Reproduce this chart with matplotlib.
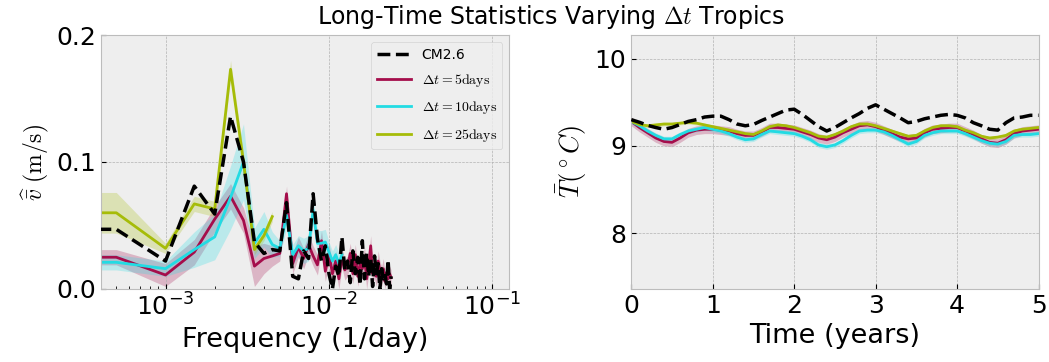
import matplotlib
matplotlib.use("Agg")
import matplotlib.pyplot as plt
import numpy as np

plt.style.use("bmh")

# ---- spectra (frequency in 1e-3 / day) ----
freq_cm = [0.3, 0.5, 1.0, 1.5, 2.0, 2.5, 3.0, 3.5, 4.0, 4.5, 5.0, 5.5, 6.0, 6.5, 7.0, 7.5,
           8.0, 8.5, 9.0, 9.5, 10.0, 10.5, 11.0, 11.5, 12.0, 12.5, 13.0, 13.5, 14.0, 14.5,
           15.0, 15.5, 16.0, 16.5, 17.0, 17.5, 18.0, 18.5, 19.0, 19.5, 20.0, 20.5, 21.0,
           21.5, 22.0, 22.5, 23.0, 23.5, 24.0]
spec_cm = [0.047, 0.047, 0.022, 0.081, 0.059, 0.136, 0.100, 0.037, 0.028, 0.031, 0.030, 0.068,
           0.010, 0.008, 0.030, 0.024, 0.075, 0.040, 0.022, 0.034, 0.012, 0.000, 0.018, 0.010,
           0.041, 0.015, 0.022, 0.005, 0.030, 0.012, 0.025, 0.003, 0.038, 0.008, 0.028, 0.010,
           0.024, 0.002, 0.026, 0.012, 0.020, 0.000, 0.016, 0.008, 0.012, 0.004, 0.023, 0.000,
           0.010]

freq_5 = freq_cm
spec_5 = [0.025, 0.025, 0.011, 0.029, 0.055, 0.073, 0.054, 0.018, 0.024, 0.026, 0.028, 0.075,
          0.020, 0.033, 0.024, 0.035, 0.026, 0.019, 0.038, 0.014, 0.028, 0.012, 0.022, 0.008,
          0.025, 0.015, 0.018, 0.028, 0.012, 0.027, 0.010, 0.020, 0.016, 0.025, 0.008, 0.019,
          0.034, 0.012, 0.016, 0.010, 0.022, 0.014, 0.010, 0.016, 0.006, 0.013, 0.008, 0.012,
          0.009]
err_5 = [0.006, 0.006, 0.009, 0.010, 0.010, 0.010, 0.010, 0.016, 0.012, 0.008, 0.006, 0.006,
         0.008, 0.008, 0.008, 0.008, 0.008, 0.008, 0.008, 0.008, 0.008, 0.008, 0.008, 0.008,
         0.008, 0.008, 0.008, 0.008, 0.008, 0.008, 0.008, 0.008, 0.008, 0.008, 0.008, 0.008,
         0.008, 0.008, 0.008, 0.008, 0.008, 0.008, 0.008, 0.008, 0.006, 0.006, 0.006, 0.006,
         0.006]

freq_10 = [0.3, 0.5, 1.0, 1.5, 2.0, 2.5, 3.0, 3.5, 4.0, 4.5, 5.0, 5.5, 6.0, 6.5, 7.0, 7.5,
           8.0, 8.5, 9.0, 9.5, 10.0, 10.5, 11.0, 11.5, 12.0]
spec_10 = [0.021, 0.021, 0.016, 0.031, 0.041, 0.072, 0.100, 0.036, 0.047, 0.035, 0.032, 0.058,
           0.027, 0.034, 0.030, 0.032, 0.062, 0.036, 0.036, 0.037, 0.029, 0.022, 0.027, 0.020,
           0.027]
err_10 = [0.006, 0.006, 0.006, 0.014, 0.018, 0.025, 0.030, 0.012, 0.014, 0.010, 0.006, 0.010,
          0.008, 0.008, 0.010, 0.010, 0.010, 0.010, 0.010, 0.010, 0.008, 0.008, 0.008, 0.008,
          0.008]

freq_25 = [0.3, 0.5, 1.0, 1.5, 2.0, 2.5, 3.0, 3.5, 4.0, 4.5]
spec_25 = [0.060, 0.060, 0.032, 0.067, 0.063, 0.173, 0.100, 0.031, 0.042, 0.057]
err_25 = [0.016, 0.016, 0.004, 0.006, 0.006, 0.007, 0.007, 0.004, 0.004, 0.004]

# ---- temperature time series ----
years = [0.0, 0.1, 0.2, 0.3, 0.4, 0.5, 0.6, 0.7, 0.8, 0.9, 1.0, 1.1, 1.2, 1.3, 1.4, 1.5, 1.6,
         1.7, 1.8, 1.9, 2.0, 2.1, 2.2, 2.3, 2.4, 2.5, 2.6, 2.7, 2.8, 2.9, 3.0, 3.1, 3.2, 3.3,
         3.4, 3.5, 3.6, 3.7, 3.8, 3.9, 4.0, 4.1, 4.2, 4.3, 4.4, 4.5, 4.6, 4.7, 4.8, 4.9, 5.0]
temp_cm = [9.30, 9.27, 9.235, 9.21, 9.19, 9.21, 9.245, 9.28, 9.30, 9.33, 9.34, 9.34, 9.30, 9.25,
           9.23, 9.245, 9.29, 9.33, 9.37, 9.41, 9.42, 9.36, 9.29, 9.22, 9.17, 9.21, 9.265,
           9.32, 9.37, 9.43, 9.47, 9.42, 9.37, 9.32, 9.265, 9.28, 9.31, 9.33, 9.35, 9.36, 9.35,
           9.32, 9.265, 9.23, 9.19, 9.18, 9.265, 9.32, 9.33, 9.35, 9.35]
temp_5 = [9.28, 9.21, 9.15, 9.09, 9.05, 9.04, 9.09, 9.15, 9.18, 9.19, 9.19, 9.18, 9.17, 9.14,
          9.12, 9.12, 9.16, 9.21, 9.21, 9.20, 9.19, 9.16, 9.13, 9.09, 9.07, 9.10, 9.15, 9.19,
          9.23, 9.24, 9.22, 9.18, 9.14, 9.10, 9.08, 9.09, 9.15, 9.19, 9.20, 9.21, 9.21, 9.17,
          9.13, 9.08, 9.04, 9.03, 9.07, 9.14, 9.17, 9.18, 9.19]
temp_10 = [9.28, 9.23, 9.17, 9.12, 9.08, 9.08, 9.13, 9.17, 9.19, 9.21, 9.19, 9.17, 9.14, 9.10,
           9.07, 9.08, 9.13, 9.17, 9.16, 9.15, 9.14, 9.11, 9.07, 9.01, 8.99, 9.01, 9.06, 9.12,
           9.17, 9.18, 9.18, 9.16, 9.12, 9.07, 9.02, 9.05, 9.12, 9.15, 9.17, 9.17, 9.17, 9.14,
           9.10, 9.06, 9.03, 9.02, 9.05, 9.12, 9.13, 9.13, 9.14]
temp_25 = [9.28, 9.245, 9.23, 9.24, 9.25, 9.25, 9.26, 9.27, 9.26, 9.24, 9.22, 9.20, 9.18, 9.16,
           9.14, 9.13, 9.17, 9.22, 9.24, 9.23, 9.21, 9.18, 9.15, 9.11, 9.10, 9.13, 9.17, 9.22,
           9.25, 9.25, 9.23, 9.20, 9.17, 9.14, 9.11, 9.12, 9.17, 9.21, 9.23, 9.23, 9.22, 9.18,
           9.15, 9.11, 9.09, 9.10, 9.12, 9.17, 9.19, 9.20, 9.21]
temp_err_5 = 0.05
temp_err_10 = 0.03
temp_err_25 = 0.02

red = "#a50d4b"
cyan = "#22dbe3"
olive = "#a6bc08"

fig = plt.figure(figsize=(10.49, 3.62), dpi=100)
ax1 = fig.add_axes([0.0966, 0.2017, 0.389, 0.7016])
ax2 = fig.add_axes([0.6018, 0.2017, 0.3882, 0.7016])

def fr(f):
    return np.array(f) * 1e-3

ax1.plot(fr(freq_cm), spec_cm, "--", color="k", lw=2.5, label="CM2.6", zorder=4)
for f, s, e, c, lab in [(freq_5, spec_5, err_5, red, r"$\Delta t = 5\mathrm{days}$"),
                        (freq_10, spec_10, err_10, cyan, r"$\Delta t = 10\mathrm{days}$"),
                        (freq_25, spec_25, err_25, olive, r"$\Delta t = 25\mathrm{days}$")]:
    s = np.array(s)
    e = np.array(e)
    ax1.plot(fr(f), s, color=c, lw=2, label=lab)
    ax1.fill_between(fr(f), s - e, s + e, color=c, alpha=0.25, lw=0)

ax1.set_xscale("log")
ax1.set_xlim(4.05e-4, 0.127)
ax1.set_ylim(0, 0.2)
ax1.set_yticks([0.0, 0.1, 0.2])
ax1.set_xlabel("Frequency (1/day)", fontsize=19.5)
ax1.set_ylabel(r"$\widehat{\bar{v}}\ (\mathrm{m/s})$", fontsize=17)
ax1.legend(loc="upper right", fontsize=10, handlelength=2.45, labelspacing=0.75)

ax2.plot(years, temp_cm, "--", color="k", lw=2.5, zorder=4)
for t, e, c in [(temp_5, temp_err_5, red), (temp_10, temp_err_10, cyan), (temp_25, temp_err_25, olive)]:
    t = np.array(t)
    ax2.plot(years, t, color=c, lw=2)
    ax2.fill_between(years, t - e, t + e, color=c, alpha=0.25, lw=0)
ax2.set_xlim(0, 5)
ax2.set_ylim(7.36, 10.27)
ax2.set_yticks([8, 9, 10])
ax2.set_xlabel("Time (years)", fontsize=19.5)
ax2.set_ylabel(r"$\bar{T}(^\circ C)$", fontsize=19)

for ax in (ax1, ax2):
    ax.tick_params(which="both", direction="in", labelsize=18)

fig.text(0.5255, 0.953, r"Long-Time Statistics Varying $\Delta t$ Tropics",
         ha="center", va="center", fontsize=17)

fig.savefig("out.png", dpi=100)
